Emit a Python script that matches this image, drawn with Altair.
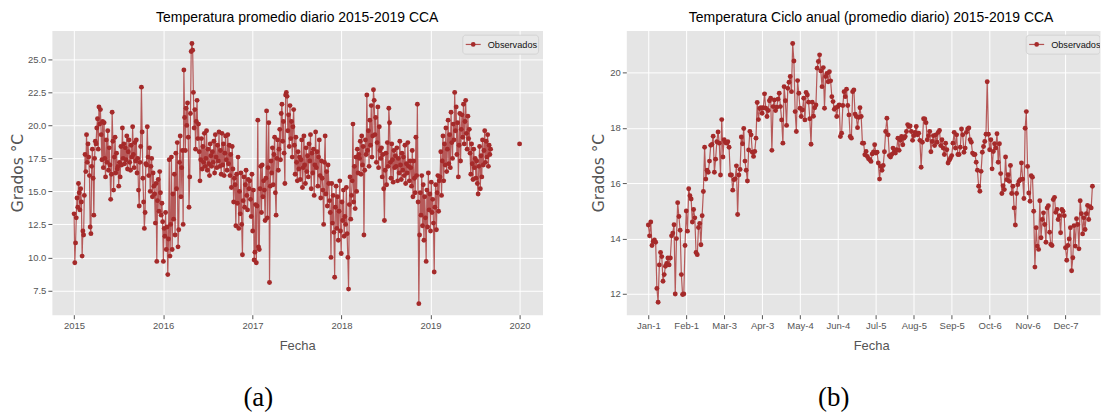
import altair as alt
import pandas as pd

# ---------------- data ----------------
# Left panel: daily mean temperature, sampled every 3 days from 2015-01-01
left_start = "2015-01-01"
left_step_days = 3
left_2015 = [
    13.3, 9.6, 11.1, 13.0, 14.5, 13.8, 15.6, 14.9, 13.6, 15.2,
    14.2, 10.1, 12.0, 11.7, 14.7, 17.8, 16.5, 19.3, 17.2, 18.6,
    17.6, 16.2, 12.3, 11.8, 16.9, 18.2, 16.0, 13.2, 17.5, 18.8,
    18.6, 19.8, 20.5, 18.2, 21.4, 20.1, 21.2, 19.3, 17.4, 20.3,
    16.8, 20.2, 17.5, 16.1, 18.9, 17.2, 19.6, 16.6, 18.3, 17.0,
    14.4, 16.3, 21.0, 18.8, 15.1, 17.6, 19.1, 16.4, 17.9, 16.7,
    16.9, 15.4, 17.2, 16.1, 18.4, 17.0, 19.8, 17.5, 18.6, 17.1,
    18.3, 17.4, 19.2, 16.7, 18.0, 18.9, 17.2, 16.6, 18.5, 17.6,
    19.9, 17.8, 16.8, 18.7, 17.3, 18.9, 16.4, 17.5, 15.1, 13.9,
    17.2, 18.4, 22.9, 19.5, 16.0, 14.2, 12.2, 13.4, 17.1, 17.0,
    19.9, 17.6, 16.2, 18.3, 15.0, 16.9, 17.5, 14.6, 16.4, 15.4,
    14.8, 12.6, 15.6, 9.7, 14.3, 15.9, 13.5, 16.5, 14.9, 13.2,
]
left_2016 = [
    14.1, 12.7, 9.7, 12.2, 11.6, 13.4, 10.6, 12.3, 8.7, 11.4,
    17.4, 10.1, 12.5, 17.6, 10.6, 14.8, 12.9, 16.3, 11.7, 17.9,
    15.2, 18.7, 10.8, 12.1, 17.2, 19.2, 14.6, 16.8, 18.1, 12.5,
    24.2, 20.6, 18.1, 21.3, 20.0, 21.7, 19.1, 13.8, 16.1, 20.9,
    25.6, 26.2, 25.7, 22.5, 19.8, 21.2, 18.2, 20.3, 21.9, 19.0,
    20.1, 18.0, 15.8, 17.4, 19.0, 16.7, 18.4, 17.2, 19.4, 16.9,
    17.5, 19.6, 16.6, 18.2, 17.1, 16.2, 18.6, 17.7, 16.9, 18.0,
    17.2, 18.8, 16.4, 19.3, 17.6, 16.8, 18.5, 17.3, 19.5, 16.9,
    18.1, 16.3, 19.4, 17.0, 18.6, 16.2, 17.9, 19.2, 17.4, 16.6,
    19.3, 17.1, 18.5, 16.2, 17.8, 15.3, 18.4, 16.7, 14.2, 16.0,
    15.5, 12.4, 16.3, 14.1, 17.6, 12.2, 15.0, 13.3, 16.4, 12.5,
    10.2, 14.3, 16.1, 13.8, 15.5, 16.6, 14.7, 13.6, 15.9, 15.2,
]
left_2017 = [
    15.8, 14.4, 13.1, 16.3, 12.0, 15.1, 9.8, 10.4, 14.0, 9.6,
    13.9, 20.4, 10.8, 10.6, 15.2, 16.9, 13.4, 17.0, 14.6, 15.8,
    15.1, 12.8, 16.0, 21.1, 13.0, 16.8, 20.2, 8.1, 15.4, 17.3,
    16.4, 18.3, 15.5, 17.8, 19.1, 14.9, 13.2, 17.5, 18.9, 16.6,
    18.2, 19.7, 17.4, 20.9, 21.6, 18.8, 20.3, 17.9, 15.6, 22.3,
    22.5, 22.2, 19.6, 20.8, 18.4, 21.5, 19.0, 20.3, 17.6, 19.9,
    21.2, 18.5, 16.3, 19.1, 17.2, 15.8, 18.0, 16.7, 17.6, 15.9,
    17.4, 18.9, 15.3, 16.8, 19.2, 17.0, 15.6, 18.3, 16.5, 17.7,
    16.1, 18.6, 17.3, 19.3, 15.2, 17.9, 16.4, 18.2, 14.7, 17.0,
    19.5, 16.8, 18.0, 15.4, 17.6, 18.9, 16.2, 14.5, 17.3, 16.0,
    15.1, 12.5, 17.2, 19.2, 14.8, 16.5, 13.9, 17.0, 15.6, 14.3,
    13.4, 10.0, 15.6, 12.6, 14.7, 11.9, 8.5, 13.8, 15.4, 12.2,
]
left_2018 = [
    14.6, 11.3, 13.5, 15.8, 12.0, 10.3, 14.2, 12.8, 15.1, 11.6,
    13.1, 12.5, 15.3, 11.8, 10.0, 7.6, 14.0, 16.1, 12.9, 14.7,
    15.8, 20.1, 14.2, 16.9, 13.7, 17.6, 15.0, 18.2, 16.4, 17.8,
    17.5, 18.8, 16.3, 19.2, 17.0, 18.4, 11.7, 16.6, 18.9, 17.8,
    22.3, 18.1, 19.6, 16.9, 20.4, 18.5, 21.5, 17.6, 19.2, 22.7,
    21.9, 19.3, 20.6, 17.2, 18.7, 21.4, 16.8, 19.9, 18.1, 17.5,
    18.3, 16.1, 17.8, 15.2, 12.8, 16.6, 17.9, 15.5, 18.7, 16.9,
    21.3, 20.2, 17.2, 16.0, 18.6, 17.4, 15.7, 18.1, 16.8, 17.7,
    16.9, 18.3, 15.8, 17.5, 16.4, 18.8, 17.0, 15.9, 17.9, 16.6,
    17.6, 16.2, 18.5, 15.6, 17.1, 16.4, 18.7, 16.9, 15.8, 17.3,
    16.8, 15.4, 18.1, 14.6, 17.3, 16.0, 14.9, 19.1, 16.2, 21.6,
    14.2, 6.5, 11.7, 14.9, 13.2, 16.2, 12.4, 15.5, 11.3, 14.6,
]
left_2019 = [
    13.0, 9.7, 15.1, 12.3, 16.4, 13.6, 14.8, 12.0, 15.7, 13.4,
    14.4, 12.6, 8.9, 13.8, 15.5, 12.1, 14.9, 16.2, 13.5, 15.8,
    16.1, 18.0, 14.7, 17.3, 19.2, 15.8, 18.6, 17.0, 19.8, 16.5,
    18.2, 20.4, 17.1, 19.3, 16.8, 21.0, 18.7, 17.5, 20.1, 18.9,
    22.5, 19.6, 21.4, 17.8, 20.2, 16.1, 18.5, 20.9, 17.3, 19.7,
    20.8, 19.1, 21.6, 18.6, 20.3, 21.9, 19.4, 18.2, 20.7, 19.0,
    19.7, 17.9, 16.3, 18.6, 17.1, 15.9, 18.2, 16.8, 17.5, 16.0,
    17.3, 15.6, 14.8, 16.9, 18.4, 15.2, 17.7, 16.1, 18.9, 17.0,
    18.1, 19.6, 17.2, 18.8, 17.6, 19.3, 16.9, 18.5, 17.8, 18.2,
]
left_extra_date = "2020-01-01"
left_extra_value = 18.6
year_ticks = [2015, 2016, 2017, 2018, 2019, 2020]
left_yticks = [7.5, 10.0, 12.5, 15.0, 17.5, 20.0, 22.5, 25.0]

# Right panel: annual cycle, one value per day of year
right_jan_mar = [
    14.49, 14.1, 14.6, 13.75, 13.9, 13.95, 13.87, 12.2, 11.7, 13.05, 13.5, 13.35, 12.46, 12.7, 13.0, 13.1,
    13.3, 13.05, 13.3, 14.1, 14.2, 14.5, 12.0, 14.0, 15.3, 14.8, 14.3, 12.7, 11.98, 12.0, 13.75, 15.0,
    14.27, 15.8, 15.55, 15.43, 14.6, 15.05, 14.75, 13.5, 13.42, 14.4, 14.55, 13.78, 14.83, 15.7, 17.3, 16.15,
    16.47, 16.4, 16.8, 17.37, 17.4, 17.7, 16.4, 16.87, 17.5, 17.85, 17.45, 16.3, 18.3, 16.95, 17.57, 17.47,
    17.45, 17.5, 17.3, 16.3, 16.3, 15.75, 16.13, 16.16, 16.63, 14.87, 16.3, 16.5, 17.67, 17.43, 17.98, 16.8,
    16.47, 16.08, 17.2, 17.87, 17.75, 17.12, 16.97, 17.15, 17.63, 18.92, 18.3, 18.7,
]
right_apr_jun = [
    18.73, 18.53, 18.73, 19.23, 18.71, 18.41, 18.63, 18.98, 19.07, 17.19, 18.77, 19.01, 18.63, 18.75, 19.04, 19.25,
    18.77, 18.29, 17.45, 19.49, 18.98, 18.09, 19.43, 19.65, 19.86, 19.31, 21.05, 20.42, 18.59, 17.87, 19.71, 19.25,
    18.71, 18.41, 18.65, 19.07, 18.29, 19.28, 19.19, 18.93, 18.33, 17.41, 18.93, 18.42, 18.73, 18.83, 20.16, 20.40,
    20.64, 20.06, 19.49, 20.18, 18.71, 19.86, 19.97, 19.67, 20.03, 19.70, 19.13, 18.95, 18.67, 18.73, 18.41, 18.77,
    18.83, 17.69, 17.81, 18.81, 19.31, 19.13, 19.40, 18.81, 18.47, 17.69, 17.63, 19.31, 19.37, 18.50, 18.41, 18.01,
    18.38, 18.73, 18.41, 17.45, 17.45, 17.03, 17.15, 16.97, 16.89, 16.85, 16.79, 17.06, 17.13, 17.39,
]
right_jul_sep = [
    17.09, 17.12, 16.73, 16.15, 16.61, 16.47, 16.64, 17.14, 17.87, 18.35, 17.75, 17.0, 16.95, 17.04, 17.27, 17.12,
    17.09, 17.21, 17.63, 17.19, 17.55, 17.69, 17.39, 17.63, 17.69, 17.87, 18.12, 18.05, 18.07, 17.87, 17.55, 17.72,
    17.84, 18.05, 17.75, 17.81, 17.55, 16.58, 17.48, 18.33, 18.32, 18.19, 17.57, 17.72, 17.87, 17.14, 17.51, 17.72,
    17.36, 17.75, 17.48, 17.84, 17.91, 17.36, 17.57, 17.27, 17.04, 17.45, 17.21, 16.73, 16.83, 16.91, 17.0, 17.45,
    17.84, 17.27, 17.75, 17.04, 17.04, 17.30, 17.96, 17.75, 17.12, 17.27, 17.84, 17.96, 18.0, 17.57, 17.48, 17.09,
    17.04, 17.04, 16.76, 16.47, 15.89, 15.71, 16.43, 17.12, 17.33, 17.51, 17.77, 19.67,
]
right_oct_dec = [
    17.77, 17.21, 17.57, 16.52, 17.15, 17.43, 17.27, 17.79, 16.76, 17.43, 16.35, 15.63, 15.91, 15.77, 16.95, 16.13,
    16.31, 16.07, 16.64, 15.63, 15.89, 15.11, 14.49, 15.63, 15.95, 16.07, 16.13, 16.73, 16.15, 15.45, 17.99, 18.59,
    16.61, 15.65, 15.35, 16.27, 16.22, 14.99, 12.97, 14.39, 13.73, 13.61, 15.37, 14.03, 14.69, 14.93, 14.51, 13.87,
    15.11, 15.19, 14.23, 13.79, 13.75, 15.41, 15.49, 14.95, 15.05, 14.69, 14.83, 14.21, 15.05, 14.99, 14.83, 13.67,
    13.22, 13.75, 13.99, 14.39, 12.84, 13.31, 14.47, 13.73, 14.72, 14.51, 13.63, 15.37, 14.90, 14.17, 14.75, 14.33,
    14.90, 15.20, 14.69, 15.15, 15.11, 15.89,
]
month_tick_days = [0, 31, 62, 93, 124, 155, 186, 217, 248, 279, 310, 341]
month_tick_labels = ["Jan-1", "Feb-1", "Mar-3", "Apr-3", "May-4", "Jun-4",
                     "Jul-5", "Aug-5", "Sep-5", "Oct-6", "Nov-6", "Dec-7"]
right_yticks = [12, 14, 16, 18, 20]

left_title = "Temperatura promedio diario 2015-2019 CCA"
right_title = "Temperatura Ciclo anual (promedio diario) 2015-2019 CCA"
legend_label = "Observados"
x_title = "Fecha"
y_title = "Grados °C"
captions = ["(a)", "(b)"]

# ---------------- tables ----------------
left_values = left_2015 + left_2016 + left_2017 + left_2018 + left_2019
dates = pd.date_range(left_start, periods=len(left_values), freq=f"{left_step_days}D")
left_df = pd.DataFrame({"fecha": dates.strftime("%Y-%m-%d"), "temp": left_values, "seg": 0})
left_df = pd.concat([left_df, pd.DataFrame({"fecha": [left_extra_date], "temp": [left_extra_value], "seg": [1]})],
                    ignore_index=True)

right_values = right_jan_mar + right_apr_jun + right_jul_sep + right_oct_dec
right_df = pd.DataFrame({"day": list(range(len(right_values))), "temp": right_values, "seg": 0})

# ---------------- style ----------------
RED = "#A52A2A"
BG = "#E5E5E5"
GREY = "#555555"
SANS = "Liberation Sans"
H = 285
W_LEFT = 492
W_RIGHT = 475

label_expr = " : ".join(f"datum.value == {d} ? '{l}'" for d, l in zip(month_tick_days, month_tick_labels)) + " : ''"


def panel(df, x, y_domain, y_ticks, y_fmt, title, width, title_dx, ytitle_x, caption, cap_x, leg_x):
    y = alt.Y("temp:Q",
              scale=alt.Scale(domain=y_domain, nice=False, zero=False),
              axis=alt.Axis(values=y_ticks, format=y_fmt, title=y_title,
                            titleX=ytitle_x, titleY=H / 2, titleAngle=-90,
                            titleBaseline="middle", titleAlign="center",
                            titleFont="DejaVu Sans", titleFontSize=15.5))
    base = alt.Chart(df)
    line = base.mark_line(color=RED, strokeWidth=1.2, opacity=0.75, clip=True).encode(
        x=x, y=y, detail="seg:N")
    pts = base.mark_circle(color=RED, size=24, opacity=1, clip=True).encode(x=x, y=y)

    leg_df = pd.DataFrame({"label": [legend_label]})
    lb = alt.Chart(leg_df)
    box = lb.mark_rect(fill="#E8E8E8", stroke="#CFCFCF", strokeWidth=0.8, cornerRadius=3, clip=True).encode(
        x=alt.value(leg_x), x2=alt.value(min(leg_x + 76, width)), y=alt.value(4.7), y2=alt.value(23.7))
    sym_line = lb.mark_rule(color=RED, strokeWidth=1.2, opacity=0.8).encode(
        x=alt.value(leg_x + 3), x2=alt.value(leg_x + 18), y=alt.value(14))
    sym_pt = lb.mark_circle(color=RED, size=22, opacity=1).encode(x=alt.value(leg_x + 10.5), y=alt.value(14))
    leg_text = lb.mark_text(align="left", baseline="middle", font=SANS, fontSize=9.2,
                            color="#111111", clip=True).encode(
        x=alt.value(leg_x + 25), y=alt.value(14.5), text="label:N")

    cap = alt.Chart(pd.DataFrame({"label": [caption]})).mark_text(
        font="Liberation Serif", fontSize=27, align="center", baseline="middle", color="black").encode(
        x=alt.value(cap_x), y=alt.value(369), text="label:N")

    return alt.layer(line, pts, box, sym_line, sym_pt, leg_text, cap).properties(
        width=width, height=H,
        title=alt.TitleParams(text=title, font=SANS, fontSize=14, fontWeight="normal",
                              color="black", anchor="middle", dx=title_dx, offset=-5,
                              baseline="alphabetic"))


x_left = alt.X("fecha:T",
               scale=alt.Scale(domain=[alt.DateTime(year=2014, month=10, date=2),
                                       alt.DateTime(year=2020, month=4, date=4)]),
               axis=alt.Axis(values=[alt.DateTime(year=yv, month=1, date=1) for yv in year_ticks],
                             format="%Y", title=x_title, titleX=W_LEFT / 2, titleY=35,
                             titleBaseline="alphabetic", titleAlign="center"))
x_right = alt.X("day:Q",
                scale=alt.Scale(domain=[-18.0, 369.2], nice=False, zero=False),
                axis=alt.Axis(values=month_tick_days, labelExpr=label_expr, title=x_title,
                              titleX=245.5, titleY=35, titleBaseline="alphabetic", titleAlign="center"))

left = panel(left_df, x_left, [5.66, 27.19], left_yticks, ".1f", left_title, W_LEFT, 0, -34,
             captions[0], 207, 412)
right = panel(right_df, x_right, [11.25, 21.52], right_yticks, "d", right_title, W_RIGHT, 8, -28,
              captions[1], 208, 401)

chart = alt.hconcat(left, right, spacing=84, bounds="flush").properties(
    padding={"left": 2, "top": 1, "right": 0, "bottom": 0}
).configure_view(
    fill=BG, stroke="transparent"
).configure_axis(
    domain=False, grid=True, gridColor="white", gridWidth=1,
    tickColor=GREY, tickSize=4, labelColor=GREY, labelFont=SANS, labelFontSize=9.5,
    labelPadding=2, titleColor=GREY, titleFont=SANS, titleFontSize=13, titleFontWeight="normal"
)

chart.save("out.html", embed_options={"renderer": "svg", "actions": False})
